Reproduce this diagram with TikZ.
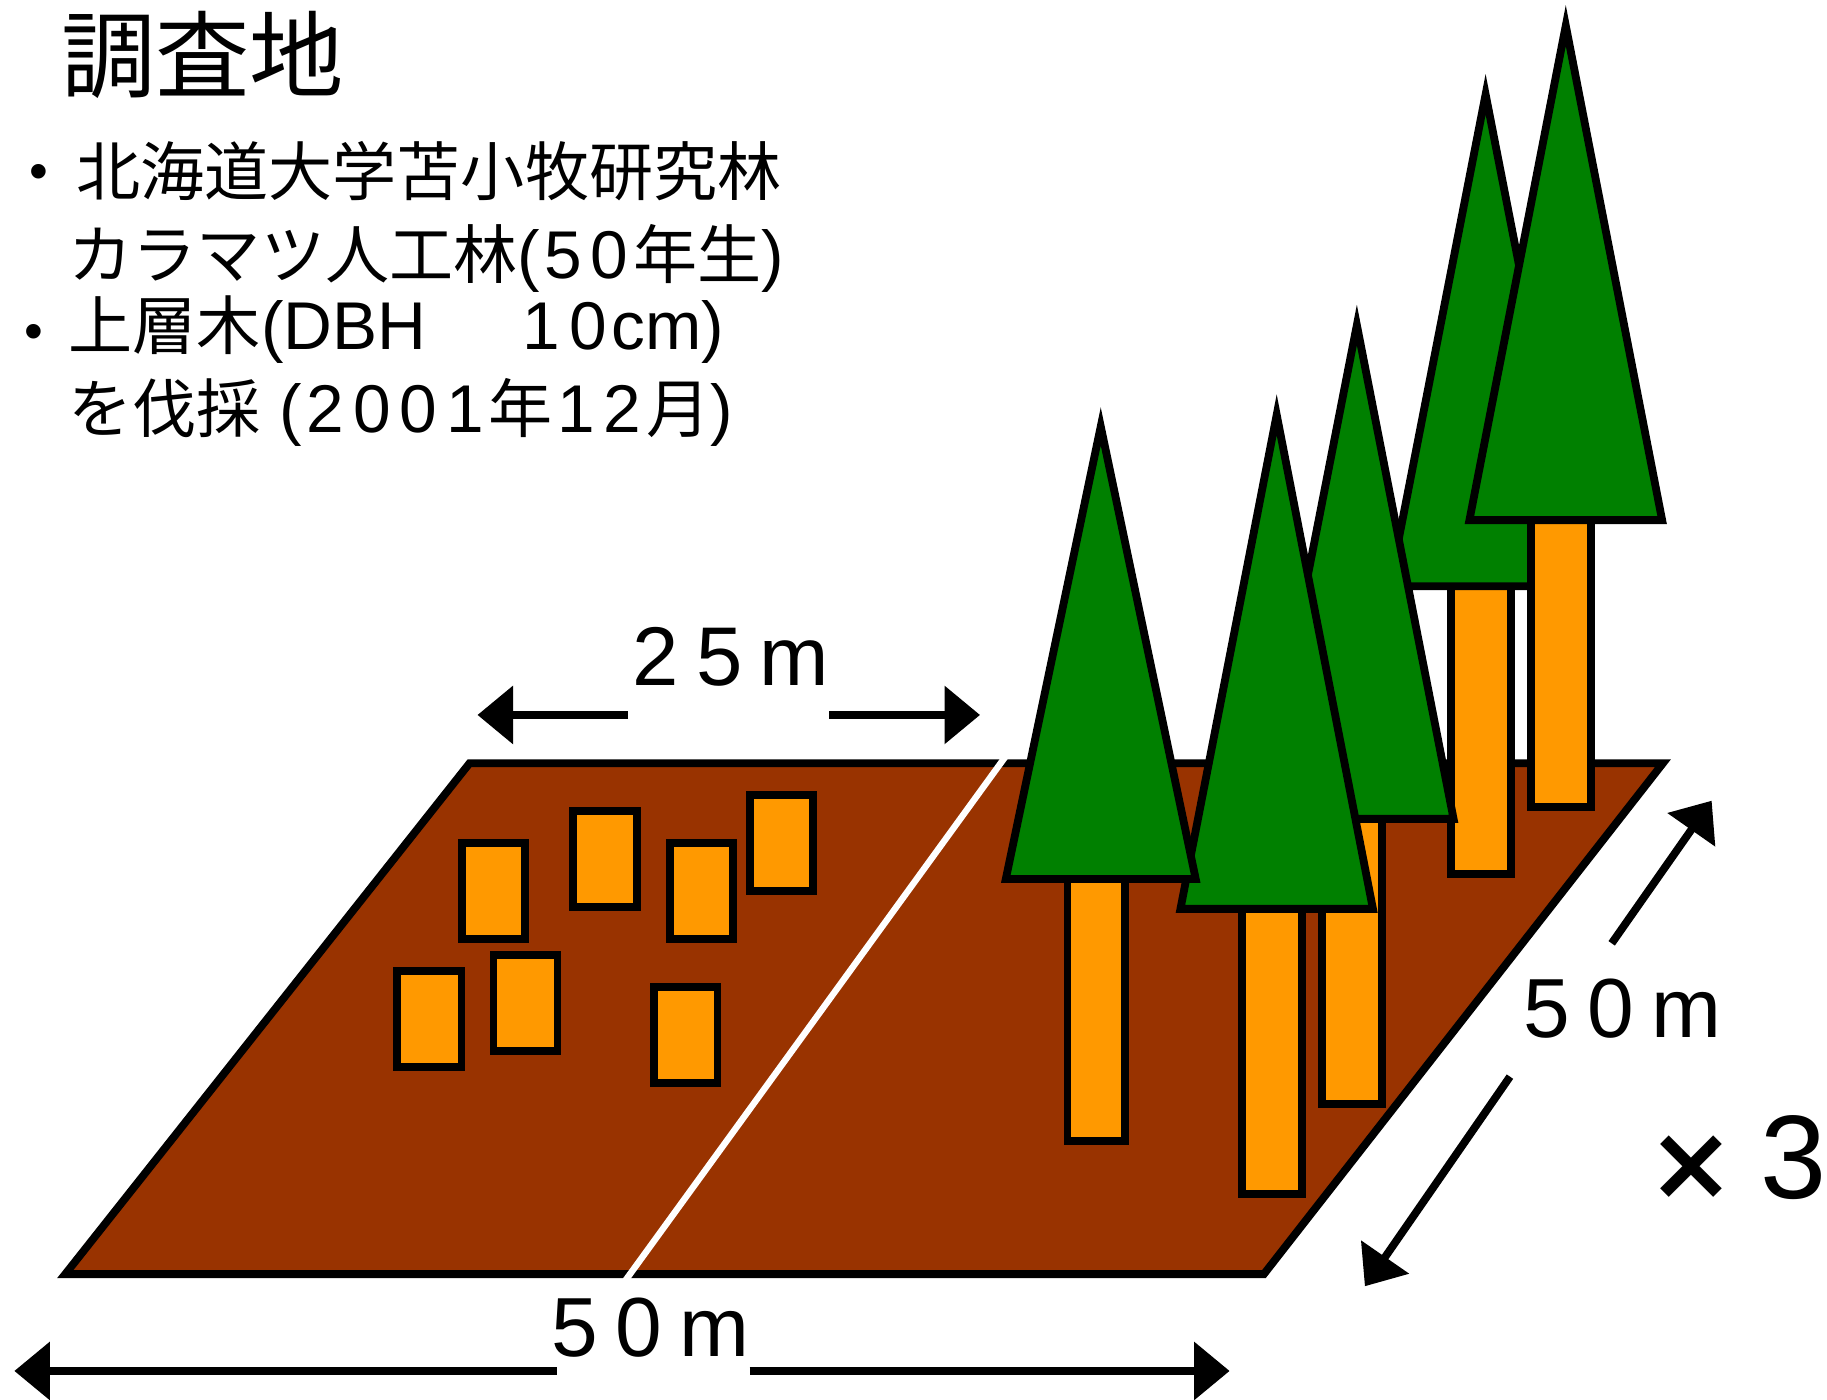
\documentclass[tikz,border=0pt]{standalone}
\usepackage{fontspec}
\usetikzlibrary{arrows.meta}
\newfontfamily\jpfont{Noto Sans CJK JP}
\newfontfamily\latinfont{Liberation Sans}
\newfontfamily\dimfont{Liberation Sans}[LetterSpace=21]
\newfontfamily\symfont{DejaVu Sans}
\definecolor{soil}{HTML}{993300}
\definecolor{wood}{HTML}{FF9900}
\definecolor{leaf}{HTML}{008000}
% text runs of the caption block
\newcommand\jtxt[1]{{\jpfont\fontsize{55}{60}\selectfont #1}}
\newcommand\ltxt[1]{{\latinfont\fontsize{58}{60}\selectfont #1}}
% a wide-set digit, centred in a fixed cell
\newcommand\dg[1]{\makebox[40pt][c]{\ltxt{#1}}}
\newcommand\bulletmark{{\latinfont\fontsize{46}{46}\selectfont •}}
% one conifer: centre x, apex y, base y, crown half width, trunk bottom y, trunk half width
\newcommand\conifer[6]{%
  \filldraw[stump] ({#1-4-#6},#3) rectangle ({#1-4+#6},#5);
  \filldraw[crown] (#1,#2) -- ({#1+#4},#3) -- ({#1-#4},#3) -- cycle;
}
\tikzset{
  outline/.style={draw=black, line width=6.7pt, line join=miter},
  soilpatch/.style={outline, fill=soil},
  stump/.style={outline, fill=wood},
  crown/.style={outline, fill=leaf},
  dimarrow/.style={line width=6.7pt, line cap=butt, -{Triangle[length=30.5pt,width=48.6pt]}},
  caption/.style={anchor=base west, inner sep=0pt},
  dimlabel/.style={anchor=base west, inner sep=0pt, font=\dimfont\fontsize{72}{80}\selectfont},
}
\begin{document}
\begin{tikzpicture}[x=1pt, y=-1pt]
\useasboundingbox (0,0) rectangle (1568,1201);

% title and notes
\node[caption] (title) at (52.3,77.3) {\jpfont\fontsize{81}{90}\selectfont 調査地};
\node[inner sep=0pt] (dot1) at (33,152) {\bulletmark};
\node[caption] (line1) at (65.4,167.7) {\jtxt{北海道大学苫小牧研究林}};
\node[caption] (line2) at (58.8,239) {\jtxt{カラマツ人工林}\ltxt{(}\dg{5}\dg{0}\jtxt{年生}\ltxt{)}};
\node[inner sep=0pt] (dot2) at (29,289) {\bulletmark};
\node[caption] (line3) at (58.8,300) {\jtxt{上層木}\ltxt{(DBH}\hspace{79pt}\dg{1}\dg{0}\ltxt{cm)}};
\node[caption] (line4) at (58.8,371) {\jtxt{を伐採}\ltxt{ (}\dg{2}\dg{0}\dg{0}\dg{1}\jtxt{年}\dg{1}\dg{2}\jtxt{月}\ltxt{)}};

% ground plot and the line splitting it into two halves
\filldraw[soilpatch] (403,655) -- (1427.2,655) -- (1084.7,1093.5) -- (56,1093.5) -- cycle;
\draw[white, line width=5.5pt] (862.8,649.5) -- (536.7,1099);

% stumps in the cut half
\filldraw[stump] (396.2,723.5) rectangle (450.9,805.6);
\filldraw[stump] (492.0,696.0) rectangle (547.0,778.2);
\filldraw[stump] (574.7,723.5) rectangle (629.4,805.6);
\filldraw[stump] (643.4,682.3) rectangle (698.0,764.7);
\filldraw[stump] (341.0,833.3) rectangle (396.0,915.5);
\filldraw[stump] (423.6,819.6) rectangle (478.4,901.8);
\filldraw[stump] (561.0,847.0) rectangle (615.7,929.2);

% standing trees, back to front
\conifer{1275}{81}{503.2}{82.5}{750.4}{25.9}
\conifer{1343.8}{22}{446.4}{82.7}{692.4}{25.9}
\conifer{1164.5}{279}{702.8}{83}{947.8}{25.9}
\conifer{1095.7}{356}{780}{82.6}{1025}{25.9}
\conifer{944.7}{366}{754.4}{81.5}{979.5}{24.6}

% dimension arrows
\coordinate (w25a) at (539.1,613.6);
\coordinate (w25b) at (409.8,613.6);
\coordinate (w25c) at (711.7,613.6);
\coordinate (w25d) at (841.1,613.6);
\draw[dimarrow] (w25a) -- (w25b);
\draw[dimarrow] (w25c) -- (w25d);
\node[dimlabel] (lab25) at (542.5,587.9) {\fontsize{71.5}{80}\selectfont 25m};

\coordinate (w50a) at (477.7,1176.6);
\coordinate (w50b) at (12.3,1176.6);
\coordinate (w50c) at (643.3,1176.6);
\coordinate (w50d) at (1055.3,1176.6);
\draw[dimarrow] (w50a) -- (w50b);
\draw[dimarrow] (w50c) -- (w50d);
\node[dimlabel] (labw50) at (472.7,1164.2) {50m};

\coordinate (d50a) at (1295.9,924);
\coordinate (d50b) at (1171.4,1103.9);
\coordinate (d50c) at (1383.2,809.6);
\coordinate (d50d) at (1469,687.2);
\draw[dimarrow] (d50a) -- (d50b);
\draw[dimarrow] (d50c) -- (d50d);
\node[dimlabel] (labd50) at (1307.2,890.1) {50m};

% replication note
\node[inner sep=0pt] (times) at (1451.6,1002) {\symfont\bfseries\fontsize{90}{100}\selectfont ×};
\node[anchor=base west, inner sep=0pt] (three) at (1510.8,1029) {\latinfont\fontsize{102}{110}\selectfont 3};
\end{tikzpicture}
\end{document}
